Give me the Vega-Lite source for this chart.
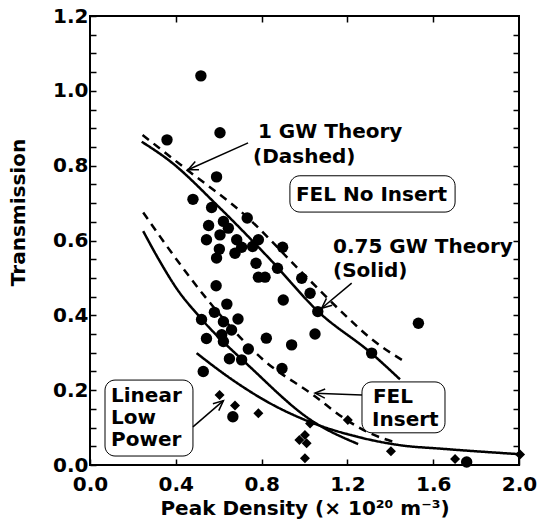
{
  "$schema": "https://vega.github.io/schema/vega-lite/v6.json",
  "width": 429,
  "height": 449,
  "autosize": "none",
  "padding": {"left": 90, "top": 16, "right": 22, "bottom": 60},
  "background": "white",
  "config": {
    "view": {"stroke": "black", "strokeWidth": 2},
    "font": "DejaVu Sans",
    "axis": {
      "domain": false,
      "grid": false,
      "ticks": true,
      "tickColor": "black",
      "tickWidth": 1.5,
      "tickSize": -6,
      "labelFont": "DejaVu Sans",
      "labelFontWeight": "bold",
      "labelFontSize": 20,
      "labelColor": "black",
      "titleFont": "DejaVu Sans",
      "titleFontWeight": "bold",
      "titleFontSize": 20,
      "titleColor": "black",
      "labelOverlap": false,
      "labelFlush": false
    }
  },
  "datasets": {
    "fel": [
      {"density": 0.517, "transmission": 1.04},
      {"density": 0.359, "transmission": 0.869},
      {"density": 0.606, "transmission": 0.888},
      {"density": 0.59, "transmission": 0.77},
      {"density": 0.48, "transmission": 0.71},
      {"density": 0.567, "transmission": 0.688},
      {"density": 0.733, "transmission": 0.66},
      {"density": 0.553, "transmission": 0.64},
      {"density": 0.622, "transmission": 0.651},
      {"density": 0.645, "transmission": 0.633},
      {"density": 0.606, "transmission": 0.615},
      {"density": 0.543, "transmission": 0.602},
      {"density": 0.684, "transmission": 0.602},
      {"density": 0.785, "transmission": 0.602},
      {"density": 0.707, "transmission": 0.582},
      {"density": 0.603, "transmission": 0.577},
      {"density": 0.59, "transmission": 0.553},
      {"density": 0.676, "transmission": 0.566},
      {"density": 0.758, "transmission": 0.584},
      {"density": 0.898, "transmission": 0.582},
      {"density": 0.774, "transmission": 0.539},
      {"density": 0.874, "transmission": 0.526},
      {"density": 0.785, "transmission": 0.502},
      {"density": 0.816, "transmission": 0.502},
      {"density": 0.588, "transmission": 0.479},
      {"density": 0.987, "transmission": 0.499},
      {"density": 1.026, "transmission": 0.459},
      {"density": 0.901, "transmission": 0.441},
      {"density": 1.062, "transmission": 0.41},
      {"density": 1.531, "transmission": 0.379},
      {"density": 1.049, "transmission": 0.35},
      {"density": 0.94, "transmission": 0.321},
      {"density": 1.313, "transmission": 0.299},
      {"density": 0.895, "transmission": 0.258},
      {"density": 1.756, "transmission": 0.008},
      {"density": 0.638, "transmission": 0.43},
      {"density": 0.58, "transmission": 0.408},
      {"density": 0.622, "transmission": 0.383},
      {"density": 0.69, "transmission": 0.39},
      {"density": 0.52, "transmission": 0.389},
      {"density": 0.66, "transmission": 0.361},
      {"density": 0.614, "transmission": 0.348},
      {"density": 0.543, "transmission": 0.338},
      {"density": 0.622, "transmission": 0.33},
      {"density": 0.822, "transmission": 0.339},
      {"density": 0.738, "transmission": 0.31},
      {"density": 0.65, "transmission": 0.284},
      {"density": 0.707, "transmission": 0.281},
      {"density": 0.528, "transmission": 0.25},
      {"density": 0.666, "transmission": 0.129}
    ],
    "linear": [
      {"density": 0.604, "transmission": 0.187},
      {"density": 0.676, "transmission": 0.159},
      {"density": 0.785, "transmission": 0.138},
      {"density": 1.026, "transmission": 0.111},
      {"density": 1.002, "transmission": 0.08},
      {"density": 0.976, "transmission": 0.067},
      {"density": 1.01, "transmission": 0.058},
      {"density": 1.002, "transmission": 0.018},
      {"density": 1.202, "transmission": 0.12},
      {"density": 1.403, "transmission": 0.037},
      {"density": 1.702, "transmission": 0.016},
      {"density": 2.005, "transmission": 0.028}
    ],
    "theory": [
      {"curve": "No insert 0.75 GW", "power": "0.75 GW", "density": 0.241, "transmission": 0.864},
      {"curve": "No insert 0.75 GW", "power": "0.75 GW", "density": 0.373, "transmission": 0.812},
      {"curve": "No insert 0.75 GW", "power": "0.75 GW", "density": 0.6, "transmission": 0.69},
      {"curve": "No insert 0.75 GW", "power": "0.75 GW", "density": 0.839, "transmission": 0.55},
      {"curve": "No insert 0.75 GW", "power": "0.75 GW", "density": 1.064, "transmission": 0.41},
      {"curve": "No insert 0.75 GW", "power": "0.75 GW", "density": 1.313, "transmission": 0.298},
      {"curve": "No insert 0.75 GW", "power": "0.75 GW", "density": 1.445, "transmission": 0.229},
      {"curve": "No insert 1 GW", "power": "1 GW", "density": 0.245, "transmission": 0.882},
      {"curve": "No insert 1 GW", "power": "1 GW", "density": 0.45, "transmission": 0.79},
      {"curve": "No insert 1 GW", "power": "1 GW", "density": 0.73, "transmission": 0.664},
      {"curve": "No insert 1 GW", "power": "1 GW", "density": 0.97, "transmission": 0.525},
      {"curve": "No insert 1 GW", "power": "1 GW", "density": 1.19, "transmission": 0.4},
      {"curve": "No insert 1 GW", "power": "1 GW", "density": 1.305, "transmission": 0.34},
      {"curve": "No insert 1 GW", "power": "1 GW", "density": 1.468, "transmission": 0.276},
      {"curve": "Insert 0.75 GW", "power": "0.75 GW", "density": 0.248, "transmission": 0.625},
      {"curve": "Insert 0.75 GW", "power": "0.75 GW", "density": 0.32, "transmission": 0.55},
      {"curve": "Insert 0.75 GW", "power": "0.75 GW", "density": 0.4, "transmission": 0.475},
      {"curve": "Insert 0.75 GW", "power": "0.75 GW", "density": 0.52, "transmission": 0.39},
      {"curve": "Insert 0.75 GW", "power": "0.75 GW", "density": 0.75, "transmission": 0.26},
      {"curve": "Insert 0.75 GW", "power": "0.75 GW", "density": 1.03, "transmission": 0.12},
      {"curve": "Insert 0.75 GW", "power": "0.75 GW", "density": 1.25, "transmission": 0.056},
      {"curve": "Insert 1 GW", "power": "1 GW", "density": 0.248, "transmission": 0.675},
      {"curve": "Insert 1 GW", "power": "1 GW", "density": 0.4, "transmission": 0.552},
      {"curve": "Insert 1 GW", "power": "1 GW", "density": 0.536, "transmission": 0.45},
      {"curve": "Insert 1 GW", "power": "1 GW", "density": 0.808, "transmission": 0.281},
      {"curve": "Insert 1 GW", "power": "1 GW", "density": 1.041, "transmission": 0.187},
      {"curve": "Insert 1 GW", "power": "1 GW", "density": 1.197, "transmission": 0.12},
      {"curve": "Insert 1 GW", "power": "1 GW", "density": 1.305, "transmission": 0.085},
      {"curve": "Insert 1 GW", "power": "1 GW", "density": 1.414, "transmission": 0.062},
      {"curve": "Linear low power", "power": "low", "density": 0.497, "transmission": 0.299},
      {"curve": "Linear low power", "power": "low", "density": 0.653, "transmission": 0.232},
      {"curve": "Linear low power", "power": "low", "density": 0.839, "transmission": 0.165},
      {"curve": "Linear low power", "power": "low", "density": 1.026, "transmission": 0.115},
      {"curve": "Linear low power", "power": "low", "density": 1.25, "transmission": 0.075},
      {"curve": "Linear low power", "power": "low", "density": 1.445, "transmission": 0.053},
      {"curve": "Linear low power", "power": "low", "density": 1.65, "transmission": 0.043},
      {"curve": "Linear low power", "power": "low", "density": 2.0, "transmission": 0.029}
    ],
    "boxes": [
      {"label": "FEL No Insert", "x1": 0.932, "x2": 1.702, "y1": 0.676, "y2": 0.773},
      {"label": "FEL Insert", "x1": 1.268, "x2": 1.655, "y1": 0.086, "y2": 0.222},
      {"label": "Linear Low Power", "x1": 0.07, "x2": 0.48, "y1": 0.024, "y2": 0.227}
    ],
    "labels": [
      {"text": "1 GW Theory", "density": 0.783, "transmission": 0.874},
      {"text": "(Dashed)", "density": 0.76, "transmission": 0.807},
      {"text": "FEL No Insert", "density": 0.96, "transmission": 0.706},
      {"text": "0.75 GW Theory", "density": 1.133, "transmission": 0.567},
      {"text": "(Solid)", "density": 1.133, "transmission": 0.503},
      {"text": "FEL", "density": 1.319, "transmission": 0.166},
      {"text": "Insert", "density": 1.315, "transmission": 0.104},
      {"text": "Linear", "density": 0.098, "transmission": 0.168},
      {"text": "Low", "density": 0.098, "transmission": 0.11},
      {"text": "Power", "density": 0.098, "transmission": 0.051}
    ],
    "arrows": [
      {"x1": 0.737, "y1": 0.861, "x2": 0.457, "y2": 0.789},
      {"x1": 1.22, "y1": 0.486, "x2": 1.08, "y2": 0.419},
      {"x1": 1.268, "y1": 0.187, "x2": 1.049, "y2": 0.192},
      {"x1": 0.48, "y1": 0.102, "x2": 0.622, "y2": 0.172}
    ]
  },
  "resolve": {"axis": {"x": "independent", "y": "independent"}},
  "layer": [
    {
      "data": {"name": "fel"},
      "mark": {"type": "point", "shape": "circle", "filled": true, "color": "black", "size": 130, "opacity": 1},
      "encoding": {
        "x": {
          "field": "density", "type": "quantitative",
          "scale": {"domain": [0, 2], "nice": false, "zero": false},
          "axis": {
            "orient": "bottom",
            "values": [0, 0.4, 0.8, 1.2, 1.6, 2.0],
            "format": ".1f",
            "labelPadding": 15,
            "title": "Peak Density (× 10²⁰ m⁻³)",
            "titlePadding": 4
          }
        },
        "y": {
          "field": "transmission", "type": "quantitative",
          "scale": {"domain": [0, 1.2], "nice": false, "zero": false},
          "axis": {
            "orient": "left",
            "values": [0, 0.05, 0.1, 0.15, 0.2, 0.25, 0.3, 0.35, 0.4, 0.45, 0.5, 0.55, 0.6, 0.65, 0.7, 0.75, 0.8, 0.85, 0.9, 0.95, 1.0, 1.05, 1.1, 1.15, 1.2],
            "labelExpr": "abs(round(datum.value*20)) % 4 == 0 ? format(datum.value, '.1f') : ''",
            "labelPadding": 8,
            "title": "Transmission",
            "titleX": -62,
            "titleY": 196
          }
        }
      }
    },
    {
      "data": {"name": "linear"},
      "mark": {"type": "point", "shape": "diamond", "filled": true, "color": "black", "size": 100, "opacity": 1},
      "encoding": {
        "x": {
          "field": "density", "type": "quantitative",
          "axis": {"orient": "top", "values": [0.4, 0.8, 1.2, 1.6], "labels": false, "title": null}
        },
        "y": {
          "field": "transmission", "type": "quantitative",
          "axis": {
            "orient": "right",
            "values": [0.05, 0.1, 0.15, 0.2, 0.25, 0.3, 0.35, 0.4, 0.45, 0.5, 0.55, 0.6, 0.65, 0.7, 0.75, 0.8, 0.85, 0.9, 0.95, 1.0, 1.05, 1.1, 1.15],
            "labels": false, "title": null
          }
        }
      }
    },
    {
      "data": {"name": "theory"},
      "mark": {"type": "line", "color": "black", "strokeWidth": 2.5, "interpolate": "monotone"},
      "encoding": {
        "x": {"field": "density", "type": "quantitative", "axis": null},
        "y": {"field": "transmission", "type": "quantitative", "axis": null},
        "detail": {"field": "curve"},
        "strokeDash": {
          "field": "power", "type": "nominal",
          "scale": {"domain": ["1 GW", "0.75 GW", "low"], "range": [[8, 6], [1, 0], [1, 0]]},
          "legend": null
        }
      }
    },
    {
      "data": {"name": "boxes"},
      "mark": {"type": "rect", "fill": "white", "stroke": "black", "strokeWidth": 1, "cornerRadius": 10},
      "encoding": {
        "x": {"field": "x1", "type": "quantitative", "axis": null},
        "x2": {"field": "x2"},
        "y": {"field": "y1", "type": "quantitative", "axis": null},
        "y2": {"field": "y2"}
      }
    },
    {
      "data": {"name": "labels"},
      "mark": {"type": "text", "align": "left", "baseline": "alphabetic", "font": "DejaVu Sans", "fontWeight": "bold", "fontSize": 20, "color": "black"},
      "encoding": {
        "x": {"field": "density", "type": "quantitative", "axis": null},
        "y": {"field": "transmission", "type": "quantitative", "axis": null},
        "text": {"field": "text"}
      }
    },
    {
      "data": {"name": "arrows"},
      "mark": {"type": "rule", "color": "black", "strokeWidth": 1.5},
      "encoding": {
        "x": {"field": "x1", "type": "quantitative", "axis": null},
        "y": {"field": "y1", "type": "quantitative", "axis": null},
        "x2": {"field": "x2"},
        "y2": {"field": "y2"}
      }
    },
    {
      "data": {"name": "arrows"},
      "transform": [
        {"calculate": "atan2((datum.x2 - datum.x1) * 214.5, (datum.y2 - datum.y1) * 374) * 180 / PI", "as": "heading"}
      ],
      "mark": {"type": "point", "shape": "M-0.45,1L0,0L0.45,1", "filled": false, "stroke": "black", "strokeWidth": 1.5, "size": 400, "opacity": 1},
      "encoding": {
        "x": {"field": "x2", "type": "quantitative", "axis": null},
        "y": {"field": "y2", "type": "quantitative", "axis": null},
        "angle": {"field": "heading", "type": "quantitative", "scale": null}
      }
    }
  ]
}
